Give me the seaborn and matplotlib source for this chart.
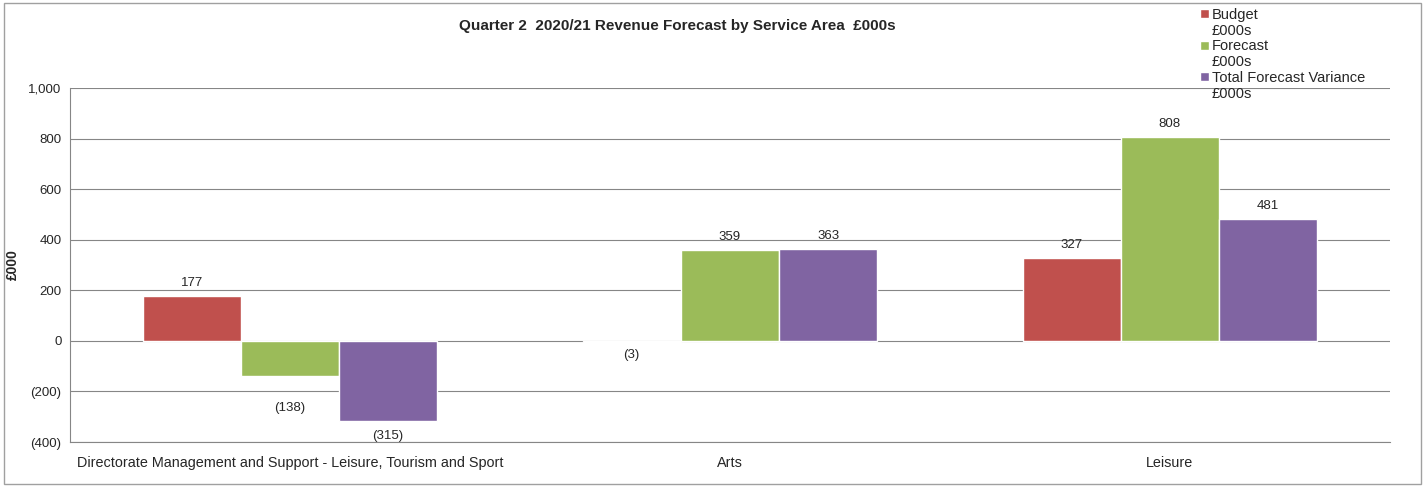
import matplotlib
matplotlib.use("Agg")
import matplotlib.pyplot as plt
from matplotlib.patches import Patch
import seaborn as sns
import pandas as pd

categories = ["Directorate Management and Support - Leisure, Tourism and Sport", "Arts", "Leisure"]
series = ["Budget", "Forecast", "Total Forecast Variance"]
unit = "£000s"
budget = [177, -3, 327]
forecast = [-138, 359, 808]
variance = [-315, 363, 481]
colors = ["#C0504D", "#9BBB59", "#8064A2"]
yticks = [-400, -200, 0, 200, 400, 600, 800, 1000]


def fmt(v):
    # accounting style: negatives in brackets
    return f"({abs(v):,.0f})" if v < 0 else f"{v:,.0f}"


rows = []
for name, vals in zip(series, [budget, forecast, variance]):
    for c, v in zip(categories, vals):
        rows.append({"area": c, "series": name, "value": v})
df = pd.DataFrame(rows)

sns.set_style("white")
plt.rcParams["font.family"] = ["Liberation Sans", "DejaVu Sans"]

fig = plt.figure(figsize=(14.27, 4.86), dpi=100)
ax = fig.add_axes([0.049, 0.0905, 0.925, 0.7285])

sns.barplot(data=df, x="area", y="value", hue="series", order=categories,
            hue_order=series, palette=colors, width=0.67, gap=0,
            saturation=1, ax=ax, legend=False, zorder=3)

ax.set_ylim(-400, 1000)
ax.set_xlim(-0.5, 2.5)
ax.set_yticks(yticks)
ax.set_yticklabels([fmt(t) for t in yticks], fontsize=9.5)
ax.tick_params(axis="x", labelsize=10.4, length=0, pad=10)
ax.tick_params(axis="y", length=0, pad=6)
ax.yaxis.grid(True, color="#868686", linewidth=0.8, zorder=0)
ax.set_axisbelow(True)
for s in ["top", "right"]:
    ax.spines[s].set_visible(False)
ax.spines["left"].set_color("#868686")
ax.spines["bottom"].set_color("#868686")
ax.set_xlabel("")
ax.set_ylabel("£000", fontsize=10, fontweight="bold")
ax.yaxis.set_label_coords(-0.038, 0.5)

# data labels; the (138) label sits lower in the original
extra_drop = {-138: 14, -315: 2}
for cont in ax.containers:
    for bar in cont:
        v = bar.get_height()
        x = bar.get_x() + bar.get_width() / 2
        if v >= 0:
            ax.annotate(fmt(v), (x, v), xytext=(0, 5), textcoords="offset points",
                        ha="center", va="bottom", fontsize=9.5)
        else:
            dy = -5 - extra_drop.get(round(v), 0)
            ax.annotate(fmt(v), (x, v), xytext=(0, dy), textcoords="offset points",
                        ha="center", va="top", fontsize=9.5)

# legend: colour square beside the first line, unit on a second line
handles, labels = [], []
for name, col in zip(series, colors):
    handles += [Patch(facecolor=col), Patch(visible=False)]
    labels += [name, unit]
fig.legend(handles, labels, loc="upper left", bbox_to_anchor=(0.839, 0.99),
           frameon=False, fontsize=10.5, handlelength=0.6, handleheight=0.6,
           handletextpad=0.2, labelspacing=0.12, borderaxespad=0, borderpad=0.2)

fig.text(0.4745, 0.946, "Quarter 2  2020/21 Revenue Forecast by Service Area  £000s",
         ha="center", va="center", fontsize=11, fontweight="bold")

fig.patches.append(plt.Rectangle((0.003, 0.005), 0.993, 0.988, transform=fig.transFigure,
                                 fill=False, edgecolor="#A0A0A0", linewidth=1))

fig.savefig("out.png", dpi=100)
